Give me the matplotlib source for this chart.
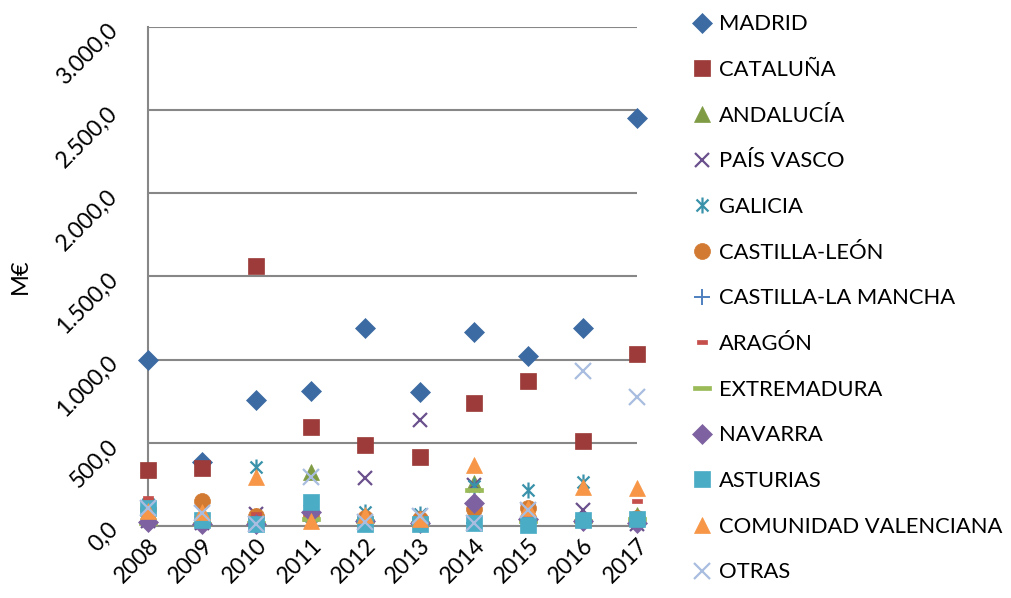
import matplotlib
matplotlib.use("Agg")
import matplotlib.pyplot as plt
from matplotlib.path import Path
import numpy as np

years = [2008, 2009, 2010, 2011, 2012, 2013, 2014, 2015, 2016, 2017]
madrid = [1000, 385, 755, 810, 1190, 805, 1165, 1020, 1190, 2450]
cataluna = [335, 350, 1565, 595, 485, 415, 740, 870, 510, 1035]
andalucia = [90, 70, 60, 325, 50, 50, 258, 100, 40, 65]
pais_vasco = [30, 20, 70, 85, 290, 635, 245, 90, 95, 10]
galicia = [130, 90, 355, 60, 85, 70, 240, 215, 265, 40]
castilla_leon = [100, 150, 60, 65, 50, 40, 100, 110, 35, 50]
castilla_la_mancha = [20, 10, 15, 30, 20, 10, 20, 20, 20, 20]
aragon = [170, 30, 75, 50, 40, 30, 40, 60, 40, 150]
extremadura = [20, 15, 20, 40, 30, 20, 215, 30, 30, 40]
navarra = [25, 10, 10, 85, 30, 20, 138, 40, 30, 20]
asturias = [110, 35, 10, 145, 10, 10, 20, 5, 35, 45]
valenciana = [90, 85, 295, 30, 65, 45, 365, 110, 235, 230]
otras = [110, 80, 10, 295, 25, 60, 20, 95, 930, 775]

names = ["MADRID", "CATALUÑA", "ANDALUCÍA", "PAÍS VASCO", "GALICIA", "CASTILLA-LEÓN",
         "CASTILLA-LA MANCHA", "ARAGÓN", "EXTREMADURA", "NAVARRA", "ASTURIAS",
         "COMUNIDAD VALENCIANA", "OTRAS"]
series = [madrid, cataluna, andalucia, pais_vasco, galicia, castilla_leon,
          castilla_la_mancha, aragon, extremadura, navarra, asturias, valenciana, otras]
y_ticks = [0, 500, 1000, 1500, 2000, 2500, 3000]
y_ticklabels = ["0,0", "500,0", "1.000,0", "1.500,0", "2.000,0", "2.500,0", "3.000,0"]

plt.rcParams['font.family'] = ['Lato', 'DejaVu Sans']

asterisk = Path([(0, -1), (0, 1), (-0.75, -0.75), (0.75, 0.75), (-0.75, 0.75), (0.75, -0.75)],
                [Path.MOVETO, Path.LINETO, Path.MOVETO, Path.LINETO, Path.MOVETO, Path.LINETO])
short_dash = Path([(-1, -0.35), (1, -0.35), (1, 0.35), (-1, 0.35), (-1, -0.35)],
                  [Path.MOVETO, Path.LINETO, Path.LINETO, Path.LINETO, Path.CLOSEPOLY])
long_dash = Path([(-1, -0.2), (1, -0.2), (1, 0.2), (-1, 0.2), (-1, -0.2)],
                 [Path.MOVETO, Path.LINETO, Path.LINETO, Path.LINETO, Path.CLOSEPOLY])

styles = [
    dict(marker='D', color='#3C6AA3', ms=10),
    dict(marker='s', color='#9C3B39', ms=11),
    dict(marker='^', color='#7F9C45', ms=11.5),
    dict(marker='x', color='#6A508C', ms=10.5, mew=1.6),
    dict(marker=asterisk, color='#3A92AA', ms=11.5, mew=1.6),
    dict(marker='o', color='#D27A32', ms=11.5),
    dict(marker='+', color='#4F7FC0', ms=11.5, mew=1.4),
    dict(marker=short_dash, color='#C44F4B', ms=7),
    dict(marker=long_dash, color='#9BBB59', ms=13),
    dict(marker='D', color='#7E61A0', ms=10),
    dict(marker='s', color='#4BACC6', ms=11),
    dict(marker='^', color='#F79646', ms=11.5),
    dict(marker='x', color='#A9BDE0', ms=11.5, mew=1.6),
]

fig = plt.figure(figsize=(10.12, 5.98), dpi=100)
ax = fig.add_axes([0.146, 0.1204, 0.4835, 0.8345])

for i, (name, vals, st) in enumerate(zip(names, series, styles)):
    ax.plot(years, vals, linestyle='none', marker=st['marker'], color=st['color'],
            markersize=st['ms'], markeredgewidth=st.get('mew', 0.5), label=name,
            clip_on=False, zorder=3 + i)

ax.set_xlim(2008, 2017)
ax.set_ylim(0, 3000)
ax.set_yticks(y_ticks)
ax.set_yticklabels(y_ticklabels)
ax.set_xticks(years)
ax.set_xticklabels([str(y) for y in years])
ax.grid(axis='y', color='#878787', linewidth=1.5, zorder=0)
ax.set_axisbelow(True)
for s in ['top', 'right']:
    ax.spines[s].set_visible(False)
for s in ['left', 'bottom']:
    ax.spines[s].set_color('#878787')
    ax.spines[s].set_linewidth(1.5)
ax.tick_params(length=0, labelsize=16.5)
for lab in ax.get_yticklabels():
    lab.set_rotation(45)
    lab.set_rotation_mode('anchor')
    lab.set_ha('right')
    lab.set_va('center')
ax.tick_params(axis='y', pad=24)
for lab in ax.get_xticklabels():
    lab.set_rotation(45)
    lab.set_rotation_mode('anchor')
    lab.set_ha('right')
    lab.set_va('top')
ax.tick_params(axis='x', pad=6)
ax.set_ylabel("M€", fontsize=17)
ax.yaxis.set_label_coords(-0.238, 0.5)

leg = fig.legend(loc='upper left', bbox_to_anchor=(0.669, 1.0), frameon=False,
                 fontsize=15.8, handlelength=0.95, handletextpad=0.32,
                 labelspacing=1.17, markerscale=1.0, borderaxespad=0.25)

fig.savefig("out.png", dpi=100, facecolor='white')
